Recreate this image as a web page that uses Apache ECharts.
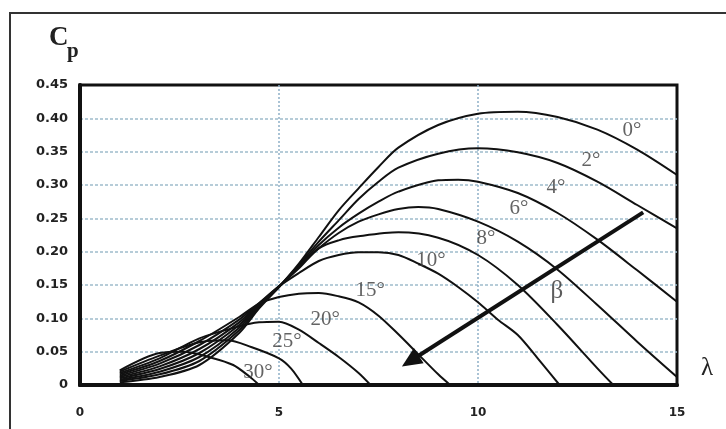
<!DOCTYPE html>
<html>
<head>
<meta charset="utf-8">
<script src="https://cdn.jsdelivr.net/npm/echarts@6/dist/echarts.min.js"></script>
<style>html,body{margin:0;padding:0;background:#fff}#c{width:726px;height:429px}</style>
</head>
<body>
<div id="c"></div>
<script>
// pitch angle labels (β)
const betaNames = ['0°','2°','4°','6°','8°','10°','15°','20°','25°','30°'];
// Cp(λ) curves, one per pitch angle: [λ, Cp]
const beta0  = [[1,.004],[2,.012],[3,.03],[4,.078],[4.5,.115],[5,.147],[5.5,.182],[6,.222],[6.5,.262],[7,.295],[7.5,.327],[8,.356],[9,.39],[10,.407],[11,.41],[12,.402],[13,.383],[14,.353],[15,.315]];
const beta2  = [[1,.006],[2,.016],[3,.036],[4,.082],[4.5,.117],[5,.147],[5.5,.18],[6,.215],[6.5,.247],[7,.279],[7.5,.305],[8,.326],[9,.347],[10,.355],[11,.349],[12,.333],[13,.305],[14,.27],[15,.235]];
const beta4  = [[1,.008],[2,.02],[3,.042],[4,.086],[4.5,.119],[5,.147],[5.5,.178],[6,.21],[6.5,.236],[7,.257],[7.5,.275],[8,.29],[9,.307],[9.5,.308],[10,.305],[11,.288],[12,.258],[13,.218],[14,.172],[15,.125]];
const beta6  = [[1,.01],[2,.024],[3,.048],[4,.09],[4.5,.12],[5,.148],[5.5,.177],[6,.205],[6.5,.228],[7,.245],[7.5,.256],[8,.264],[8.5,.267],[9,.264],[10,.245],[11,.215],[12,.173],[13,.12],[14,.065],[15,.012]];
const beta8  = [[1,.012],[2,.028],[3,.054],[4,.094],[4.5,.122],[5,.148],[5.5,.175],[6,.205],[6.5,.217],[7,.223],[8,.229],[9,.221],[10,.195],[11,.15],[12,.09],[13,.025],[13.4,0]];
const beta10 = [[1,.014],[2,.032],[3,.06],[4,.098],[4.5,.123],[5,.148],[5.5,.168],[6,.186],[6.5,.195],[7,.199],[7.5,.199],[8,.195],[8.5,.182],[9,.167],[9.5,.147],[10,.124],[10.5,.098],[11,.075],[11.5,.04],[12.05,0]];
const beta15 = [[1,.016],[2,.036],[3,.066],[4,.102],[4.5,.122],[5,.132],[5.5,.137],[6,.138],[6.5,.133],[7,.124],[7.5,.104],[8,.076],[8.5,.046],[9,.016],[9.3,0]];
const beta20 = [[1,.018],[2,.04],[3,.07],[4,.088],[4.5,.094],[5,.095],[5.5,.083],[6,.063],[6.5,.042],[7,.018],[7.3,0]];
const beta25 = [[1,.02],[2,.044],[3,.064],[3.7,.067],[4.3,.057],[5,.04],[5.3,.025],[5.6,0]];
const beta30 = [[1,.022],[2,.048],[2.6,.05],[3.3,.041],[3.85,.03],[4.25,.013],[4.5,0]];
const curves = [beta0,beta2,beta4,beta6,beta8,beta10,beta15,beta20,beta25,beta30];
// where each β label sits: [λ, Cp]
const labelAt = [[13.87,.382],[12.84,.337],[11.96,.296],[11.03,.265],[10.2,.22],[8.82,.187],[7.29,.142],[6.16,.099],[5.2,.066],[4.47,.019]];
// arrow showing increasing β
const arrowFrom = [14.15,.259];
const arrowTo = [8.3,.036];
const betaSymbolAt = [11.98,.141];
// axis ticks
const xTicks = {min:0,max:15,step:5};
const yTicks = {min:0,max:0.45,step:0.05};

const chart = echarts.init(document.getElementById('c'), null, {renderer:'canvas'});
const series = curves.map((d,i)=>({
  type:'line', name:betaNames[i], data:d, showSymbol:false, smooth:0.3,
  lineStyle:{color:'#111',width:2}, silent:true, z:3
}));
series.push({
  type:'scatter', symbolSize:0, silent:true, z:5,
  data:labelAt.map((p,i)=>({value:p,name:betaNames[i]})),
  label:{show:true,position:'inside',formatter:p=>p.name,fontFamily:'Liberation Serif',fontSize:21,color:'#3c3c3c'}
});
series.push({
  type:'scatter', symbolSize:0, silent:true, z:5,
  data:[{value:betaSymbolAt,name:'β'}],
  label:{show:true,position:'inside',formatter:'β',fontFamily:'Liberation Serif',fontSize:25,color:'#333'},
  markLine:{silent:true,symbol:['none','triangle'],symbolSize:[18,20],animation:false,
    lineStyle:{color:'#111',width:4,type:'solid'},label:{show:false},
    data:[[{coord:arrowFrom},{coord:arrowTo}]]}
});

const frameAxis = {show:true,lineStyle:{color:'#111',width:3}};
chart.setOption({
  animation:false,
  backgroundColor:'#fff',
  grid:{left:80,right:49,top:85,bottom:44,show:true,borderColor:'#111',borderWidth:3,backgroundColor:'#fff'},
  xAxis:[{type:'value',min:xTicks.min,max:xTicks.max,interval:xTicks.step,
    axisLine:{show:true,lineStyle:{color:'#111',width:4}},axisTick:{show:false},
    axisLabel:{margin:22,fontFamily:'DejaVu Sans',fontWeight:'bold',fontSize:12,color:'#222'},
    splitLine:{show:true,showMinLine:false,showMaxLine:false,lineStyle:{color:'#8fb0c8',type:[2,2],width:1.5}}},
    {type:'value',position:'top',z:10,min:xTicks.min,max:xTicks.max,interval:xTicks.step,
    axisLine:frameAxis,axisTick:{show:false},axisLabel:{show:false},splitLine:{show:false}}],
  yAxis:[{type:'value',min:yTicks.min,max:yTicks.max,interval:yTicks.step,
    axisLine:{show:true,lineStyle:{color:'#111',width:4}},axisTick:{show:false},
    axisLabel:{margin:12,fontFamily:'DejaVu Sans',fontWeight:'bold',fontSize:13,color:'#222',
      formatter:v=>v===0?'0':v.toFixed(2)},
    splitLine:{show:true,showMinLine:false,showMaxLine:false,lineStyle:{color:'#9fbccc',type:[3,2],width:1.5}}},
    {type:'value',position:'right',z:10,min:yTicks.min,max:yTicks.max,interval:yTicks.step,
    axisLine:frameAxis,axisTick:{show:false},axisLabel:{show:false},splitLine:{show:false}}],
  graphic:[
    {type:'polyline',shape:{points:[[10,429],[10,13],[726,13]]},style:{stroke:'#333',lineWidth:2,fill:null}},
    {type:'text',left:49,top:25,style:{text:'C',font:'bold 27px "Liberation Serif"',fill:'#222'}},
    {type:'text',left:67,top:41,style:{text:'p',font:'bold 21px "Liberation Serif"',fill:'#222'}},
    {type:'text',left:701,top:356,style:{text:'λ',font:'25px "Liberation Serif"',fill:'#222'}}
  ],
  series:series
});
</script>
</body>
</html>
